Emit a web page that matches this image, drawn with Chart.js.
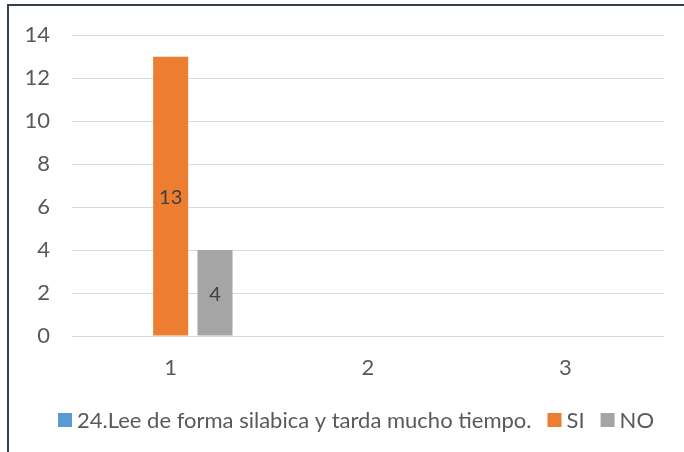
<!DOCTYPE html>
<html>
<head>
<meta charset="utf-8">
<script src="https://cdn.jsdelivr.net/npm/chart.js@4/dist/chart.umd.min.js"></script>
<style>
html,body{margin:0;padding:0;background:#fff;}
#wrap{position:relative;width:684px;height:452px;overflow:hidden;}
#frame{position:absolute;left:7px;top:4px;right:-10px;bottom:-10px;border-top:2px solid #34404f;border-left:2px solid #34404f;pointer-events:none;}
canvas{position:absolute;left:0;top:0;}
</style>
</head>
<body>
<div id="wrap">
<canvas id="c" width="684" height="452"></canvas>
<div id="frame"></div>
</div>
<script>
const categories = ["1", "2", "3"];
const seriesNames = ["24.Lee de forma silabica y tarda mucho tiempo.", "SI", "NO"];
const seriesLee = [null, null, null];
const seriesSI = [13, null, null];
const seriesNO = [4, null, null];
const yTicks = [0, 2, 4, 6, 8, 10, 12, 14];

const FONT = "Lato, 'Open Sans', sans-serif";

const labelPlugin = {
  id: 'centerLabels',
  afterDatasetsDraw(chart) {
    const ctx = chart.ctx;
    ctx.save();
    ctx.font = "20px " + FONT;
    ctx.fillStyle = "#404040";
    ctx.textAlign = "center";
    ctx.textBaseline = "alphabetic";
    chart.data.datasets.forEach((ds, i) => {
      const meta = chart.getDatasetMeta(i);
      meta.data.forEach((el, j) => {
        const v = ds.data[j];
        if (v === null || v === undefined) return;
        ctx.fillText(String(v), el.x, (el.y + el.base) / 2 + 8);
      });
    });
    ctx.restore();
  }
};

const legendPlugin = {
  id: 'bottomLegend',
  afterDraw(chart) {
    const ctx = chart.ctx;
    ctx.save();
    ctx.font = "22px " + FONT;
    ctx.textBaseline = "alphabetic";
    ctx.textAlign = "left";
    const box = 14, gap = 5, spacing = 16;
    const items = chart.data.datasets.map(ds => ({ text: ds.label, color: ds.backgroundColor, w: ctx.measureText(ds.label).width }));
    const total = items.reduce((s, it) => s + box + gap + it.w, 0) + spacing * (items.length - 1);
    let x = 356 - total / 2;
    const baseY = 428;
    items.forEach(it => {
      ctx.fillStyle = it.color;
      ctx.fillRect(x, baseY - 15, box, box);
      x += box + gap;
      ctx.fillStyle = '#595959';
      ctx.fillText(it.text, x, baseY);
      x += it.w + spacing;
    });
    ctx.restore();
  }
};

new Chart(document.getElementById('c'), {
  type: 'bar',
  data: {
    labels: categories,
    datasets: [
      { label: seriesNames[0], data: seriesLee, backgroundColor: '#5b9bd5' },
      { label: seriesNames[1], data: seriesSI, backgroundColor: '#ed7d31' },
      { label: seriesNames[2], data: seriesNO, backgroundColor: '#a5a5a5' }
    ]
  },
  options: {
    responsive: false,
    animation: false,
    devicePixelRatio: 1,
    layout: { padding: { top: 35, right: 20, left: 10, bottom: 0 } },
    datasets: { bar: { categoryPercentage: 0.674, barPercentage: 0.79 } },
    plugins: {
      tooltip: { enabled: false },
      legend: { display: false }
    },
    scales: {
      x: {
        grid: { display: false, drawTicks: false },
        border: { display: false },
        ticks: { font: { family: FONT, size: 22 }, color: '#595959', padding: 19 },
        afterFit(scale) { scale.height = 116; }
      },
      y: {
        min: 0, max: 14,
        afterBuildTicks(scale) { scale.ticks = yTicks.map(v => ({ value: v })); },
        grid: { color: '#d9d9d9', lineWidth: 1, drawTicks: false },
        border: { display: false },
        ticks: { font: { family: FONT, size: 22 }, color: '#595959', padding: 22 },
        afterFit(scale) { scale.width = 62; }
      }
    }
  },
  plugins: [labelPlugin, legendPlugin]
});
</script>
</body>
</html>
